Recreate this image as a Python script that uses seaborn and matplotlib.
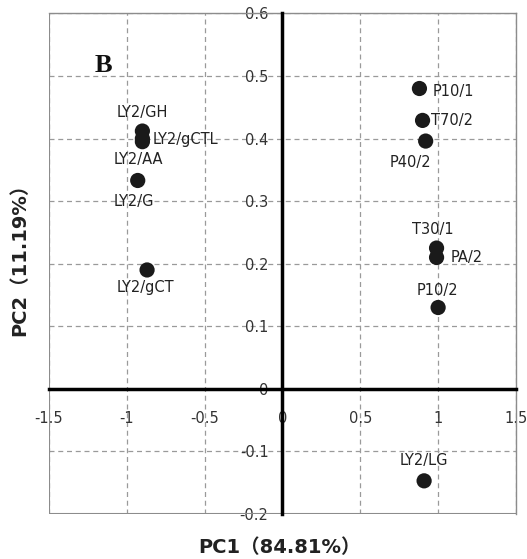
import pandas as pd
import numpy as np
import matplotlib.pyplot as plt
import seaborn as sns

# sample names and PCA scores
samples = ['LY2/GH', 'LY2/gCTL', 'LY2/AA', 'LY2/G', 'LY2/gCT',
           'P10/1', 'T70/2', 'P40/2', 'T30/1', 'PA/2', 'P10/2', 'LY2/LG']
pc1 = [-0.90, -0.90, -0.90, -0.93, -0.87, 0.88, 0.90, 0.92, 0.99, 0.99, 1.00, 0.91]
pc2 = [0.412, 0.400, 0.395, 0.333, 0.190, 0.480, 0.429, 0.396, 0.225, 0.210, 0.130, -0.147]

x_ticks = [-1.5, -1, -0.5, 0, 0.5, 1, 1.5]
x_tick_labels = ['-1.5', '-1', '-0.5', '0', '0.5', '1', '1.5']
y_ticks = [-0.2, -0.1, 0, 0.1, 0.2, 0.3, 0.4, 0.5, 0.6]
y_tick_labels = ['-0.2', '-0.1', '0', '0.1', '0.2', '0.3', '0.4', '0.5', '0.6']

# label offsets in pixels (dx, dy, ha)
label_pos = {
    'LY2/GH': (0, 19, 'center'),
    'LY2/gCTL': (10, -1, 'left'),
    'LY2/AA': (-4, -18, 'center'),
    'LY2/G': (-4, -21, 'center'),
    'LY2/gCT': (-2, -18, 'center'),
    'P10/1': (13, -3, 'left'),
    'T70/2': (8, 0, 'left'),
    'P40/2': (-15, -21, 'center'),
    'T30/1': (-4, 19, 'center'),
    'PA/2': (14, 0, 'left'),
    'P10/2': (-1, 17, 'center'),
    'LY2/LG': (0, 20, 'center'),
}

df = pd.DataFrame({'sample': samples, 'PC1': pc1, 'PC2': pc2})

sns.set_style('white')
plt.rcParams['font.family'] = ['DejaVu Sans', 'Noto Sans CJK SC']

fig = plt.figure(figsize=(5.27, 5.59), dpi=100)
ax = fig.add_axes([0.093, 0.0805, 0.886, 0.8955])

ax.grid(True, color='#9a9a9a', linestyle='--', linewidth=0.9, dashes=(4, 3))
ax.set_axisbelow(True)

sns.scatterplot(data=df, x='PC1', y='PC2', ax=ax, color='#1a1a1a',
                s=120, edgecolor='none', zorder=5, legend=False)

for name, x, y in zip(samples, pc1, pc2):
    dx, dy, ha = label_pos[name]
    ax.annotate(name, (x, y), xytext=(dx, dy), textcoords='offset pixels',
                ha=ha, va='center', fontsize=10.5, color='#222222', zorder=6)

ax.set_xlim(-1.5, 1.5)
ax.set_ylim(-0.2, 0.6)
ax.set_xticks(x_ticks)
ax.set_xticklabels(x_tick_labels)
ax.set_yticks(y_ticks)
ax.set_yticklabels(y_tick_labels)

# black axes crossing at the origin
ax.spines['left'].set_position(('data', 0))
ax.spines['bottom'].set_position(('data', 0))
for sp in ['left', 'bottom']:
    ax.spines[sp].set_color('black')
    ax.spines[sp].set_linewidth(2.5)
    ax.spines[sp].set_zorder(4)
for sp in ['top', 'right']:
    ax.spines[sp].set_color('#8c8c8c')
    ax.spines[sp].set_linewidth(1.0)
# outer frame on left and bottom
ax.axvline(-1.5, color='#8c8c8c', linewidth=1.5, zorder=3)
ax.axhline(-0.2, color='#8c8c8c', linewidth=1.5, zorder=3)

ax.tick_params(axis='both', direction='in', length=4, width=1.5, color='black',
               labelsize=10.5, labelcolor='#333333')
ax.tick_params(axis='x', pad=16)
ax.tick_params(axis='y', pad=10)

ax.set_xlabel('')
ax.set_ylabel('')
fig.text(0.53, 0.021, 'PC1（84.81%）', ha='center', va='center',
         fontsize=14, fontweight='bold', color='#222222')
fig.text(0.038, 0.545, 'PC2（11.19%）', ha='center', va='center',
         rotation=90, fontsize=14, fontweight='bold', color='#222222')

ax.text(-1.15, 0.516, 'B', fontsize=19, fontweight='bold',
        family='Liberation Serif', ha='center', va='center', color='#111111')

fig.savefig('out.png', dpi=100)
